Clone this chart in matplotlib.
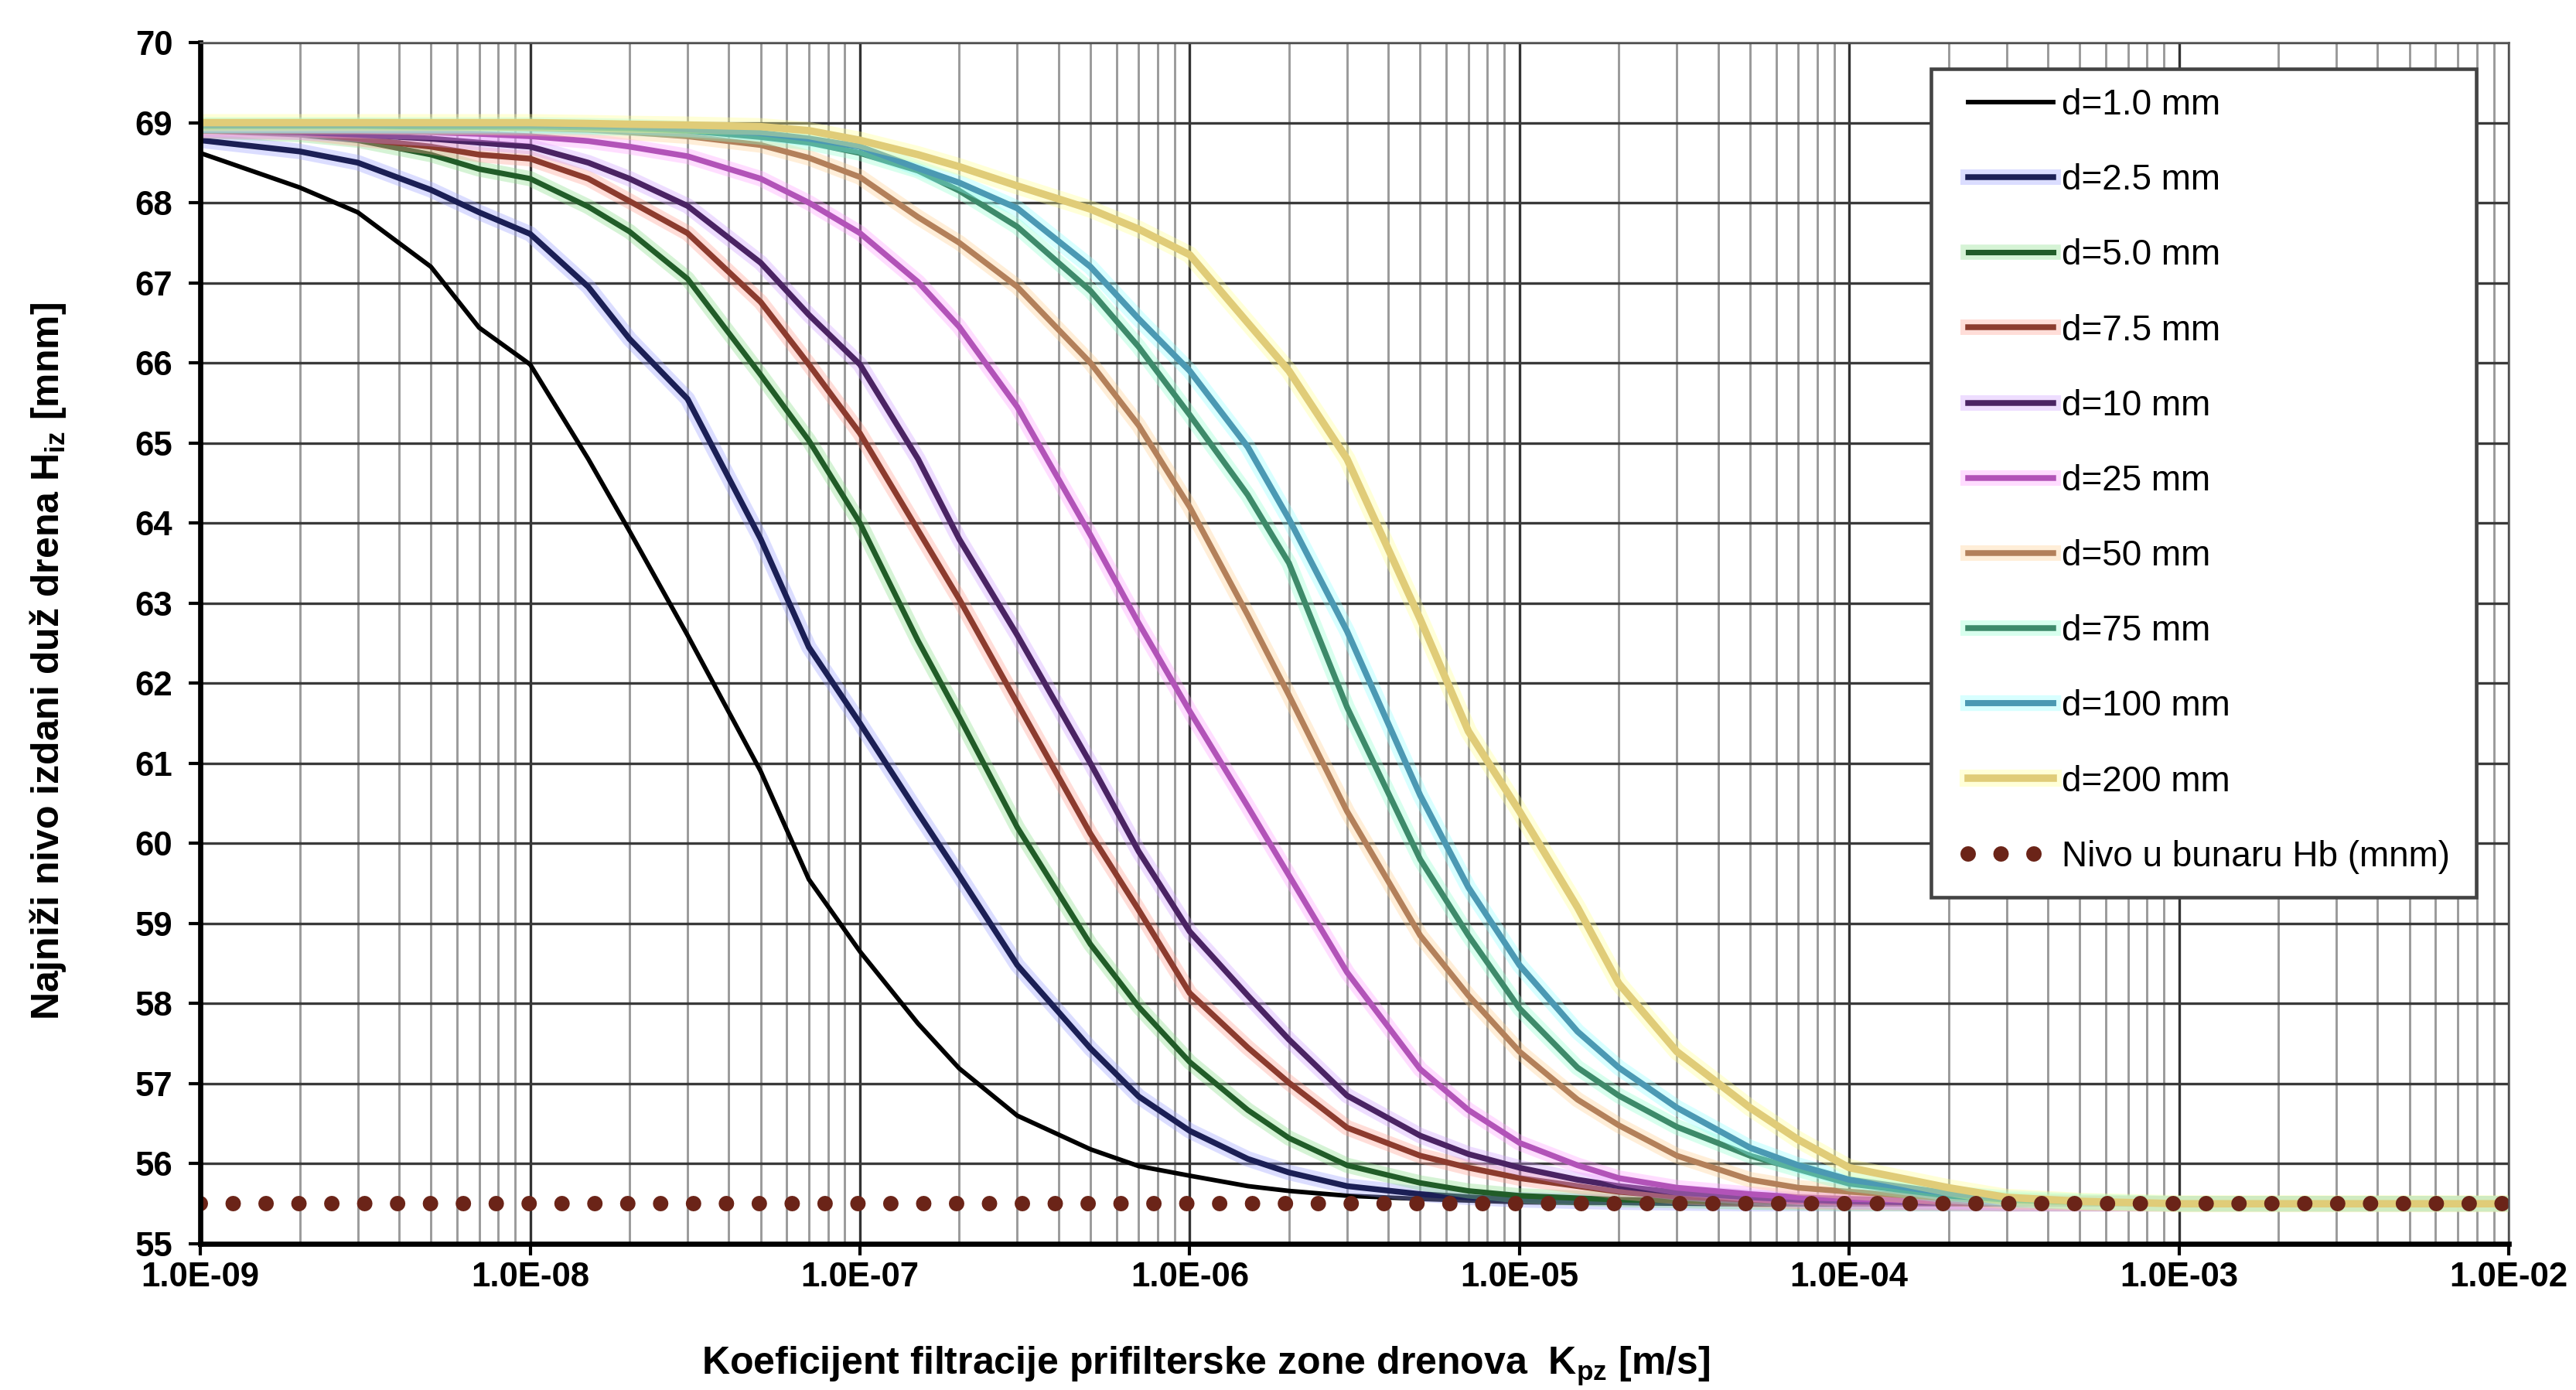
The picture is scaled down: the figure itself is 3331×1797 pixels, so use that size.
import numpy as np
import matplotlib
matplotlib.use("Agg")
from matplotlib import pyplot as plt
from matplotlib import ticker
from matplotlib.patches import Rectangle
import matplotlib.patheffects as pe

plt.rcParams['font.family'] = ['Liberation Sans', 'DejaVu Sans']
plt.rcParams['mathtext.fontset'] = 'custom'
plt.rcParams['mathtext.rm'] = 'Liberation Sans:bold'
plt.rcParams['mathtext.it'] = 'Liberation Sans:bold'
plt.rcParams['mathtext.bf'] = 'Liberation Sans:bold'

# filtration coefficient of the pre-filter zone [m/s]
k_pz = [1e-9, 2e-9, 3e-9, 5e-9, 7e-9, 1e-8, 1.5e-8, 2e-8, 3e-8, 5e-8, 7e-8,
        1e-7, 1.5e-7, 2e-7, 3e-7, 5e-7, 7e-7, 1e-6, 1.5e-6, 2e-6, 3e-6, 5e-6,
        7e-6, 1e-5, 1.5e-5, 2e-5, 3e-5, 5e-5, 7e-5, 1e-4, 2e-4, 3e-4, 5e-4,
        1e-3, 1e-2]

# lowest groundwater level along the drain [mnm], one list per thickness d
h_d1_0 = [68.62, 68.19, 67.88, 67.20, 66.44, 65.98, 64.80, 63.90, 62.60, 60.90, 59.55,
          58.65, 57.75, 57.19, 56.60, 56.18, 55.97, 55.85, 55.72, 55.66, 55.60, 55.56,
          55.54, 55.52, 55.51, 55.51, 55.50, 55.50, 55.50, 55.50, 55.50, 55.50, 55.50,
          55.50, 55.50]
h_d2_5 = [68.78, 68.64, 68.50, 68.16, 67.88, 67.61, 66.95, 66.30, 65.55, 63.80, 62.45,
          61.50, 60.38, 59.60, 58.48, 57.44, 56.84, 56.41, 56.06, 55.89, 55.72, 55.62,
          55.58, 55.55, 55.53, 55.52, 55.51, 55.50, 55.50, 55.50, 55.50, 55.50, 55.50,
          55.50, 55.50]
h_d5_0 = [68.90, 68.85, 68.78, 68.60, 68.42, 68.30, 67.95, 67.64, 67.05, 65.85, 65.03,
          64.00, 62.53, 61.58, 60.20, 58.74, 57.96, 57.27, 56.67, 56.32, 55.98, 55.76,
          55.66, 55.60, 55.57, 55.55, 55.54, 55.52, 55.51, 55.50, 55.50, 55.50, 55.50,
          55.50, 55.50]
h_d7_5 = [68.90, 68.88, 68.80, 68.70, 68.60, 68.55, 68.30, 68.02, 67.62, 66.76, 65.98,
          65.12, 63.91, 63.05, 61.75, 60.12, 59.17, 58.13, 57.45, 57.01, 56.45, 56.10,
          55.95, 55.82, 55.72, 55.65, 55.59, 55.55, 55.53, 55.52, 55.51, 55.50, 55.50,
          55.50, 55.50]
h_d10 = [68.90, 68.88, 68.85, 68.80, 68.75, 68.70, 68.50, 68.30, 67.96, 67.25, 66.60,
         65.98, 64.80, 63.80, 62.60, 61.00, 59.90, 58.90, 58.10, 57.55, 56.85, 56.35,
         56.12, 55.95, 55.80, 55.72, 55.64, 55.58, 55.55, 55.53, 55.51, 55.50, 55.50,
         55.50, 55.50]
h_d25 = [68.92, 68.91, 68.90, 68.88, 68.86, 68.83, 68.77, 68.70, 68.58, 68.30, 68.00,
         67.62, 67.01, 66.45, 65.45, 63.85, 62.75, 61.65, 60.46, 59.60, 58.39, 57.18,
         56.67, 56.26, 55.98, 55.82, 55.70, 55.62, 55.58, 55.56, 55.53, 55.52, 55.51,
         55.50, 55.50]
h_d50 = [68.95, 68.95, 68.95, 68.94, 68.94, 68.93, 68.91, 68.88, 68.83, 68.72, 68.56,
         68.32, 67.82, 67.50, 66.95, 66.00, 65.22, 64.20, 62.85, 61.85, 60.40, 58.85,
         58.10, 57.40, 56.80, 56.48, 56.10, 55.80, 55.70, 55.65, 55.57, 55.53, 55.51,
         55.50, 55.50]
h_d75 = [68.96, 68.96, 68.96, 68.95, 68.95, 68.95, 68.94, 68.93, 68.90, 68.82, 68.75,
         68.62, 68.40, 68.15, 67.70, 66.90, 66.20, 65.35, 64.35, 63.50, 61.70, 59.80,
         58.85, 57.94, 57.20, 56.85, 56.46, 56.10, 55.93, 55.75, 55.60, 55.55, 55.52,
         55.50, 55.50]
h_d100 = [68.97, 68.97, 68.97, 68.97, 68.97, 68.97, 68.96, 68.95, 68.92, 68.87, 68.80,
          68.70, 68.43, 68.25, 67.93, 67.20, 66.55, 65.90, 64.95, 64.05, 62.65, 60.60,
          59.45, 58.48, 57.65, 57.20, 56.70, 56.20, 55.98, 55.80, 55.63, 55.57, 55.53,
          55.50, 55.50]
h_d200 = [69.00, 69.00, 69.00, 69.00, 69.00, 69.00, 68.99, 68.98, 68.97, 68.95, 68.90,
          68.78, 68.60, 68.45, 68.21, 67.92, 67.67, 67.35, 66.50, 65.90, 64.80, 62.80,
          61.40, 60.40, 59.20, 58.25, 57.40, 56.70, 56.30, 55.95, 55.70, 55.58, 55.53,
          55.50, 55.50]

labels = ['d=1.0 mm', 'd=2.5 mm', 'd=5.0 mm', 'd=7.5 mm', 'd=10 mm',
          'd=25 mm', 'd=50 mm', 'd=75 mm', 'd=100 mm', 'd=200 mm']
series = [h_d1_0, h_d2_5, h_d5_0, h_d7_5, h_d10, h_d25, h_d50, h_d75, h_d100, h_d200]

# well level (constant)
k_well = [1e-9, 1e-2]
h_well = [55.5, 55.5]
well_label = 'Nivo u bunaru Hb (mnm)'

x_ticks = [1e-9, 1e-8, 1e-7, 1e-6, 1e-5, 1e-4, 1e-3, 1e-2]
y_ticks = list(range(55, 71))

colors = ['#000000', '#1b1f55', '#215c28', '#8c3b2e', '#4a2363',
          '#b253b8', '#b3805a', '#3d8a6a', '#4b99b3', '#e0cc78']
glows = [None, '#9aa0ff', '#88dd88', '#ffa090', '#d0a0ff',
         '#ffa0ff', '#ffd090', '#90ffd0', '#90ffff', '#ffff90']
widths = [1.4, 1.8, 1.7, 1.8, 1.8, 1.8, 1.8, 1.8, 1.9, 2.3]

fig = plt.figure(figsize=(3331 / 300, 1797 / 300), dpi=300)
ax = fig.add_axes([0.0778, 0.1052, 0.8961, 0.8642])

for h, lab, c, g, lw in zip(series, labels, colors, glows, widths):
    line, = ax.plot(k_pz, h, color=c, lw=lw, label=lab, solid_joinstyle='round')
    if g is not None:
        line.set_path_effects([pe.Stroke(linewidth=lw + 3.0, foreground=g, alpha=0.35),
                               pe.Normal()])

ax.plot(k_well, h_well, color='#6b2418', lw=4.8, linestyle=(0, (0.001, 2.125)),
        dash_capstyle='round', label=well_label)

ax.set_xscale('log')
ax.set_xlim(1e-9, 1e-2)
ax.set_ylim(55, 70)
ax.set_yticks(y_ticks)
ax.xaxis.set_major_locator(ticker.FixedLocator(x_ticks))
minor_ticks = [m * t for t in x_ticks[:-1] for m in range(2, 10)]
ax.xaxis.set_minor_locator(ticker.FixedLocator(minor_ticks))
ax.xaxis.set_major_formatter(ticker.FuncFormatter(lambda v, p: f"{v:.1E}"))
ax.xaxis.set_minor_formatter(ticker.NullFormatter())

ax.grid(which='major', axis='y', color='#3a3a3a', lw=0.8)
ax.grid(which='major', axis='x', color='#333333', lw=0.8)
ax.grid(which='minor', axis='x', color='#9a9a9a', lw=0.7)
ax.set_axisbelow(True)

ax.tick_params(axis='both', which='major', direction='out', length=3.6, width=1.0,
               labelsize=10.5)
ax.tick_params(axis='x', which='major', pad=2)
ax.tick_params(axis='y', which='major', pad=5)
ax.tick_params(axis='x', which='minor', length=0)
for t in ax.get_xticklabels() + ax.get_yticklabels():
    t.set_fontweight('bold')

for s in ['left', 'bottom']:
    ax.spines[s].set_color('black')
    ax.spines[s].set_linewidth(1.6)
for s in ['top', 'right']:
    ax.spines[s].set_color('#555555')
    ax.spines[s].set_linewidth(0.6)

ax.set_xlabel(r'Koeficijent filtracije prifilterske zone drenova  K$_{\mathrm{pz}}$ [m/s]',
              fontsize=12, fontweight='bold', va='center')
ax.xaxis.set_label_coords(0.4355, -0.102)
ax.set_ylabel(r'Najniži nivo izdani duž drena H$_{\mathrm{iz}}$ [mnm]',
              fontsize=12, fontweight='bold', va='center')
ax.yaxis.set_label_coords(-0.066, 0.485)

# legend box drawn separately so its size matches the original
box = Rectangle((0.7497, 0.2885), 0.2363, 0.6895, transform=ax.transAxes,
                facecolor='white', edgecolor='#444444', lw=1.1, zorder=4.9)
ax.add_patch(box)
leg = ax.legend(loc='upper left', bbox_to_anchor=(0.7658, 0.962), fontsize=11,
                frameon=False, handlelength=2.41, handletextpad=0.23,
                labelspacing=1.16, borderpad=0.0, borderaxespad=0.0)
leg.set_zorder(5)

fig.savefig('out.png', dpi=300, facecolor='white')
